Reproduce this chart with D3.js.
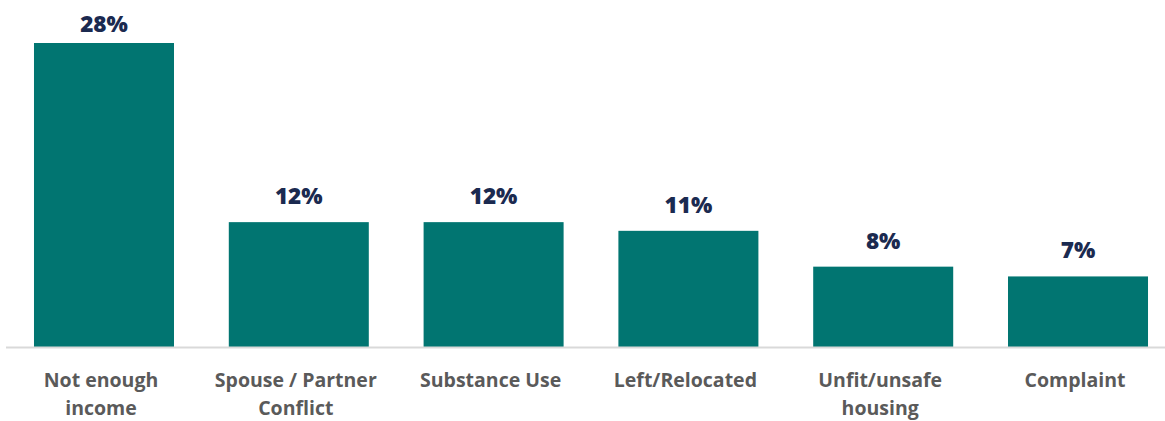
<!DOCTYPE html>
<html><head><meta charset="utf-8">
<script src="https://cdn.jsdelivr.net/npm/d3@7"></script>
<style>html,body{margin:0;padding:0;background:#fff;}svg{display:block;}</style>
</head><body>
<svg id="chart" width="1165" height="421"></svg>
<script>
const categories = [["Not enough","income"],["Spouse / Partner","Conflict"],["Substance Use"],["Left/Relocated"],["Unfit/unsafe","housing"],["Complaint"]];
const values = [28, 11.5, 11.5, 10.7, 7.4, 6.5];
const valueLabels = ["28%","12%","12%","11%","8%","7%"];

const svg = d3.select("#chart");
const W = 1165, H = 421, baseY = 347, topY = 43;
const x = d3.scaleBand().domain(d3.range(categories.length)).range([6.6, 1175.4]).paddingInner(0.2813).paddingOuter(0.1406);
const y = d3.scaleLinear().domain([0, 28]).range([baseY, topY]);

svg.selectAll("rect.bar").data(values).join("rect").attr("class","bar")
  .attr("x",(d,i)=>x(i)).attr("width",x.bandwidth())
  .attr("y",d=>y(d)).attr("height",d=>baseY-y(d)).attr("fill","#017571");

svg.append("line").attr("x1",6).attr("x2",W).attr("y1",baseY+0.5).attr("y2",baseY+0.5)
  .attr("stroke","#d9d9d9").attr("stroke-width",2);

svg.selectAll("text.val").data(values).join("text").attr("class","val")
  .attr("x",(d,i)=>x(i)+x.bandwidth()/2).attr("y",d=>Math.max(y(d)-18,32))
  .attr("text-anchor","middle").attr("font-family","'Open Sans', sans-serif").attr("font-weight",800)
  .attr("font-size",22.5).attr("fill","#1b2a50").text((d,i)=>valueLabels[i]);

const g = svg.selectAll("text.cat").data(categories).join("text").attr("class","cat")
  .attr("text-anchor","middle").attr("font-family","'Open Sans', sans-serif").attr("font-weight",700)
  .attr("font-size",19.5).attr("fill","#5a5a5a");
g.each(function(lines,i){
  const t = d3.select(this);
  lines.forEach((l,j)=>t.append("tspan").attr("x",x(i)+x.bandwidth()/2 - 3).attr("y",386.5+j*28).text(l));
});
</script>
</body></html>
